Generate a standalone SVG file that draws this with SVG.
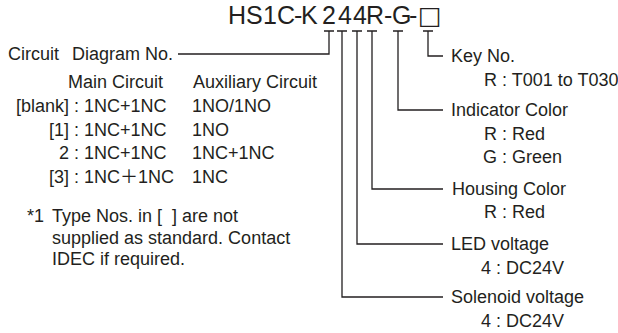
<svg xmlns="http://www.w3.org/2000/svg" width="618" height="333" viewBox="0 0 618 333">
<style>
text{font-family:"Liberation Sans",Arial,"Noto Sans CJK JP",sans-serif;font-size:18px;fill:#231f20}
.title{font-size:25px}
.box{font-family:"DejaVu Sans","Liberation Sans",sans-serif;font-size:25px}
.ln{fill:none;stroke:#231f20;stroke-width:1.3}
.r{text-anchor:end}
</style>
<rect width="618" height="333" fill="#fff"/>
<g id="title">
<text class="title" y="24"><tspan x="228 246 263 277 294 301 322 338 353 366 384 392 409">HS1C-K244R-G-</tspan><tspan class="box" x="418">□</tspan></text>
</g>
<g id="connectors">
<path class="ln" d="M324 31H334M329 31V54H178"/>
<path class="ln" d="M337 31H347M342 31V297H443"/>
<path class="ln" d="M352 31H362M357 31V244H443"/>
<path class="ln" d="M367 31H377M372 31V189H443"/>
<path class="ln" d="M393 31H403M398 31V110H443"/>
<path class="ln" d="M423 31H433M428 31V56H443"/>
</g>
<g id="circuit-diagram">
<text x="8" y="60">Circuit</text>
<text x="72" y="60">Diagram No.</text>
<text x="68" y="88">Main Circuit</text>
<text x="193" y="88">Auxiliary Circuit</text>
<text class="r" x="69" y="112">[blank]</text>
<text x="74" y="112">: 1NC+1NC</text>
<text x="192" y="112">1NO/1NO</text>
<text class="r" x="69" y="135.5">[1]</text>
<text x="74" y="135.5">: 1NC+1NC</text>
<text x="192" y="135.5">1NO</text>
<text class="r" x="69" y="159">2</text>
<text x="74" y="159">: 1NC+1NC</text>
<text x="192" y="159">1NC+1NC</text>
<text class="r" x="69" y="182.5">[3]</text>
<text x="74" y="182.5">: 1NC＋1NC</text>
<text x="192" y="182.5">1NC</text>
</g>
<g id="footnote">
<text x="27" y="222">*1</text>
<text x="52" y="222" xml:space="preserve" style="white-space:pre">Type Nos. in [  ] are not</text>
<text x="52" y="243.5">supplied as standard. Contact</text>
<text x="52" y="265">IDEC if required.</text>
</g>
<g id="key-no">
<text x="451" y="62">Key No.</text>
<text x="484" y="86">R : T001 to T030</text>
</g>
<g id="indicator-color">
<text x="451" y="116">Indicator Color</text>
<text x="484" y="140">R : Red</text>
<text x="483" y="163">G : Green</text>
</g>
<g id="housing-color">
<text x="452" y="195">Housing Color</text>
<text x="484" y="218">R : Red</text>
</g>
<g id="led-voltage">
<text x="451" y="250">LED voltage</text>
<text x="481" y="274">4 : DC24V</text>
</g>
<g id="solenoid-voltage">
<text x="451" y="303">Solenoid voltage</text>
<text x="481" y="327">4 : DC24V</text>
</g>
</svg>
